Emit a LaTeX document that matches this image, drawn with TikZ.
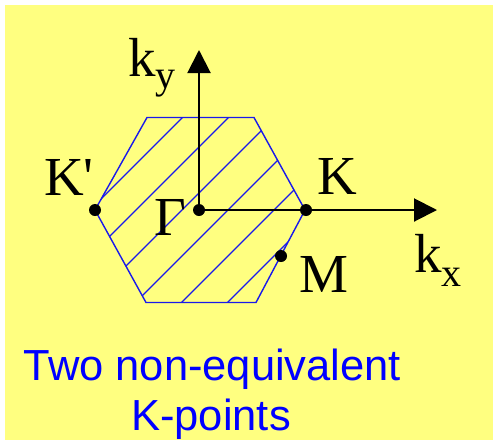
\documentclass[tikz,border=0pt]{standalone}
\usepackage{fontspec}
\usepackage{tikz}
\usetikzlibrary{arrows.meta,positioning,calc}
\newfontfamily\labelfont{Liberation Serif}
\newfontfamily\notefont{Liberation Sans}
\definecolor{bgyellow}{RGB}{255,255,128}
\definecolor{zoneblue}{RGB}{25,25,235}

\begin{document}
\begin{tikzpicture}[x=1pt, y=-1pt,
    dot/.style={circle, fill=black, inner sep=0pt, minimum size=12pt},
    axis/.style={line width=2pt, -{Triangle[length=23pt,width=23pt]}},
    lbl/.style={font=\labelfont\fontsize{55}{55}\selectfont, inner sep=0pt, anchor=base},
    note/.style={font=\notefont\fontsize{43.5}{50}\selectfont, text=blue, inner sep=0pt, anchor=base}]
    % background
    \useasboundingbox (0,0) rectangle (494,442);
    \fill[bgyellow] (5,5) rectangle (493,440);

    % hexagonal zone
    \coordinate (h1) at (147,117.5);
    \coordinate (h2) at (254,117.5);
    \coordinate (h3) at (305,210);
    \coordinate (h4) at (256,302.5);
    \coordinate (h5) at (146,302.5);
    \coordinate (h6) at (95,210);
    \begin{scope}
        \clip (h1) -- (h2) -- (h3) -- (h4) -- (h5) -- (h6) -- cycle;
        \foreach \c in {300,346,...,530}
            \draw[zoneblue, line width=1.1pt] (\c-100,100) -- (\c-320,320);
    \end{scope}
    \draw[zoneblue, line width=1.4pt] (h1) -- (h2) -- (h3) -- (h4) -- (h5) -- (h6) -- cycle;

    % points
    \node[dot] (G) at (199,210) {};
    \node[dot] (K) at (306,210) {};
    \node[dot] (Kp) at (95,210) {};
    \node[dot] (M) at (281,256) {};

    % axes
    \coordinate (xtip) at (437,210);
    \coordinate (ytip) at (199,50);
    \draw[axis] (G.center) -- (xtip);
    \draw[axis] (G.center) -- (ytip);

    % labels
    \node[lbl] (kx) at (438,272) {k\raisebox{-14pt}{\fontsize{40}{40}\selectfont x}};
    \node[lbl] (ky) at (152,76) {k\raisebox{-12pt}{\fontsize{40}{40}\selectfont y}};
    \node[lbl] (Klbl) at (337.5,194) {K};
    \node[lbl] (Kplbl) at (69,195) {K'};
    \node[lbl] (Glbl) at (170,235) {Γ};
    \node[lbl] (Mlbl) at (324,292) {M};

    % caption
    \node[note] (note1) at (212.5,380) {Two non-equivalent};
    \node[note] (note2) at (211,430) {K-points};
\end{tikzpicture}
\end{document}
